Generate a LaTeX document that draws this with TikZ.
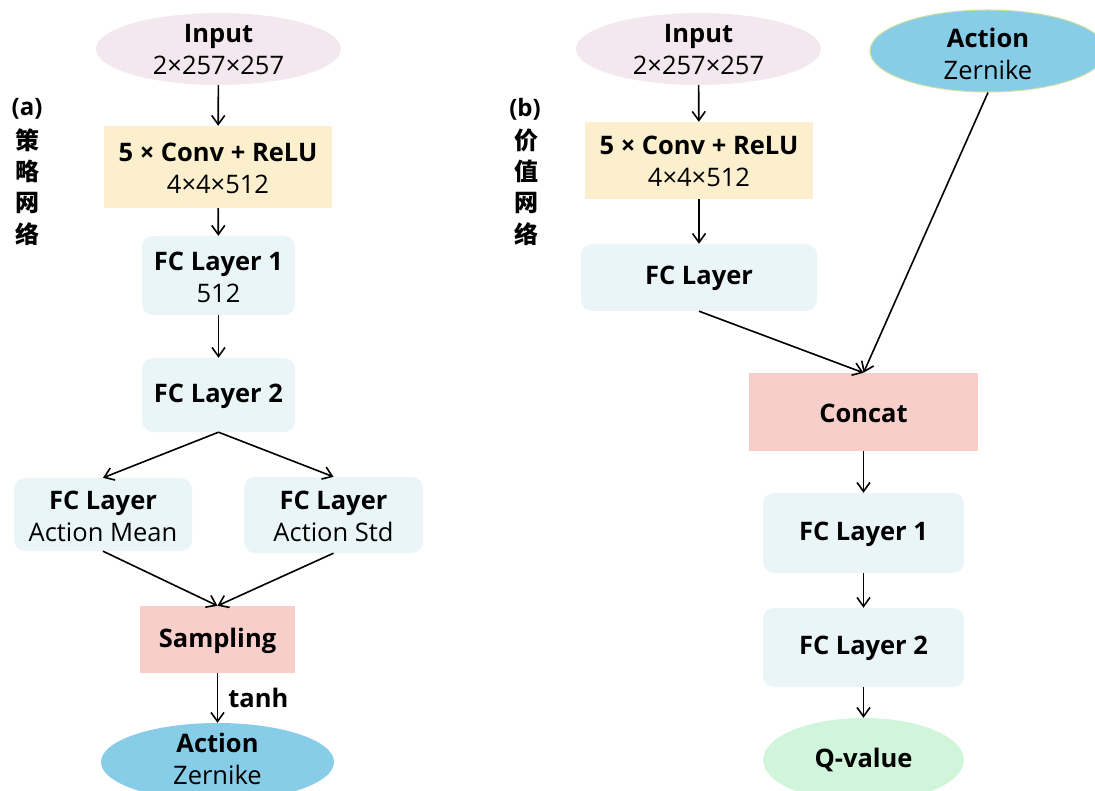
\documentclass[tikz,border=0pt]{standalone}
\usepackage{fontspec}
\setmainfont{Open Sans}
\newfontfamily\cjk{Noto Sans CJK SC}
\usetikzlibrary{shapes.geometric,arrows.meta}
\definecolor{inpink}{RGB}{244,232,239}
\definecolor{convy}{RGB}{252,239,205}
\definecolor{fcblue}{RGB}{234,245,248}
\definecolor{redbox}{RGB}{248,206,202}
\definecolor{actblue}{RGB}{135,205,232}
\definecolor{qgreen}{RGB}{209,245,218}
\definecolor{actedge}{RGB}{205,222,160}
\tikzset{
  txt/.style={font=\fontsize{25.5}{32}\selectfont, align=center, inner sep=0pt},
  ell/.style={ellipse, inner sep=0pt, draw=none},
  sqbox/.style={rectangle, inner sep=0pt, draw=none},
  fcbox/.style={rectangle, rounded corners=11pt, inner sep=0pt, draw=none, fill=fcblue},
  arr/.style={-{Straight Barb[length=9pt,width=13pt]}, line width=1.6pt, black},
  side/.style={font=\fontsize{24}{26}\selectfont\bfseries, inner sep=0pt}
}
\begin{document}
\begin{tikzpicture}[x=1pt,y=-1pt]
\useasboundingbox (0,0) rectangle (1095,791);
% ---------- left (a) ----------
\node[side] (la) at (27,109) {(a)};
\node[side] (la1) at (28,140) {\cjk\bfseries 策};
\node[side] (la2) at (28,171) {\cjk\bfseries 略};
\node[side] (la3) at (28,203) {\cjk\bfseries 网};
\node[side] (la4) at (28,234) {\cjk\bfseries 络};

\node[ell, fill=inpink, minimum width=245pt, minimum height=72pt] (inA) at (218.5,49) {};
\node[txt] (inAt) at (218.5,50) {\textbf{Input}\\2×257×257};

\node[sqbox, fill=convy, minimum width=228pt, minimum height=82pt] (convA) at (218,167) {};
\node[txt] (convAt) at (218,168.5) {\textbf{5 × Conv + ReLU}\\4×4×512};

\node[fcbox, minimum width=153pt, minimum height=79pt] (fc1A) at (218.5,275.5) {};
\node[txt] (fc1At) at (218.5,277.5) {\textbf{FC Layer 1}\\512};

\node[fcbox, minimum width=153pt, minimum height=74pt] (fc2A) at (218.5,395) {};
\node[txt] (fc2At) at (218.5,396) {\textbf{FC Layer 2}};

\node[fcbox, minimum width=178pt, minimum height=73pt] (mean) at (103,514.5) {};
\node[txt] (meant) at (103,516) {\textbf{FC Layer}\\Action Mean};

\node[fcbox, minimum width=179pt, minimum height=76pt] (std) at (333.5,515) {};
\node[txt] (stdt) at (333.5,516) {\textbf{FC Layer}\\Action Std};

\node[sqbox, fill=redbox, minimum width=155pt, minimum height=67pt] (samp) at (217.5,639.5) {};
\node[txt] (sampt) at (217.5,641) {\textbf{Sampling}};

\node[ell, fill=actblue, minimum width=233pt, minimum height=78pt] (actA) at (217.5,762) {};
\node[txt] (actAt) at (217.5,759) {\textbf{Action}\\Zernike};

\draw[arr] (inA) -- (convA);
\draw[arr] (convA) -- (fc1A);
\draw[arr] (fc1A) -- (fc2A);
\draw[arr] (fc2A.south) -- (mean.north);
\draw[arr] (fc2A.south) -- (std.north);
\draw[arr] (mean.south) -- (samp.north);
\draw[arr] (std.south) -- (samp.north);
\draw[arr] (samp) -- node[txt, anchor=west, xshift=10pt, font=\fontsize{25.5}{32}\selectfont\bfseries] (tanh) {tanh} (actA);

% ---------- right (b) ----------
\node[side] (lb) at (525,109) {(b)};
\node[side] (lb1) at (526,140) {\cjk\bfseries 价};
\node[side] (lb2) at (526,171) {\cjk\bfseries 值};
\node[side] (lb3) at (526,203) {\cjk\bfseries 网};
\node[side] (lb4) at (526,234) {\cjk\bfseries 络};

\node[ell, fill=inpink, minimum width=245pt, minimum height=72pt] (inB) at (698.5,49) {};
\node[txt] (inBt) at (698.5,50) {\textbf{Input}\\2×257×257};

\node[ell, fill=actblue, draw=actedge, line width=1pt, minimum width=236pt, minimum height=82pt] (actB) at (988,51) {};
\node[txt] (actBt) at (988,54) {\textbf{Action}\\Zernike};

\node[sqbox, fill=convy, minimum width=228pt, minimum height=77pt] (convB) at (699,160.5) {};
\node[txt] (convBt) at (699,161) {\textbf{5 × Conv + ReLU}\\4×4×512};

\node[fcbox, minimum width=236pt, minimum height=67pt] (fcB) at (699,277.5) {};
\node[txt] (fcBt) at (699,278) {\textbf{FC Layer}};

\node[sqbox, fill=redbox, minimum width=229pt, minimum height=78pt] (concat) at (863.5,412) {};
\node[txt] (concatt) at (863.5,413) {\textbf{Concat}};

\node[fcbox, minimum width=201pt, minimum height=80pt] (fc1B) at (863.5,533) {};
\node[txt] (fc1Bt) at (863.5,534) {\textbf{FC Layer 1}};

\node[fcbox, minimum width=201pt, minimum height=79pt] (fc2B) at (863.5,647.5) {};
\node[txt] (fc2Bt) at (863.5,648) {\textbf{FC Layer 2}};

\node[ell, fill=qgreen, minimum width=201pt, minimum height=84pt] (qv) at (863.5,760) {};
\node[txt] (qvt) at (863.5,760) {\textbf{Q-value}};

\draw[arr] (inB) -- (convB);
\draw[arr] (convB) -- (fcB);
\draw[arr] (fcB.south) -- (concat.north);
\draw[arr] (actB.south) -- (concat.north);
\draw[arr] (concat) -- (fc1B);
\draw[arr] (fc1B) -- (fc2B);
\draw[arr] (fc2B) -- (qv);
\end{tikzpicture}
\end{document}
